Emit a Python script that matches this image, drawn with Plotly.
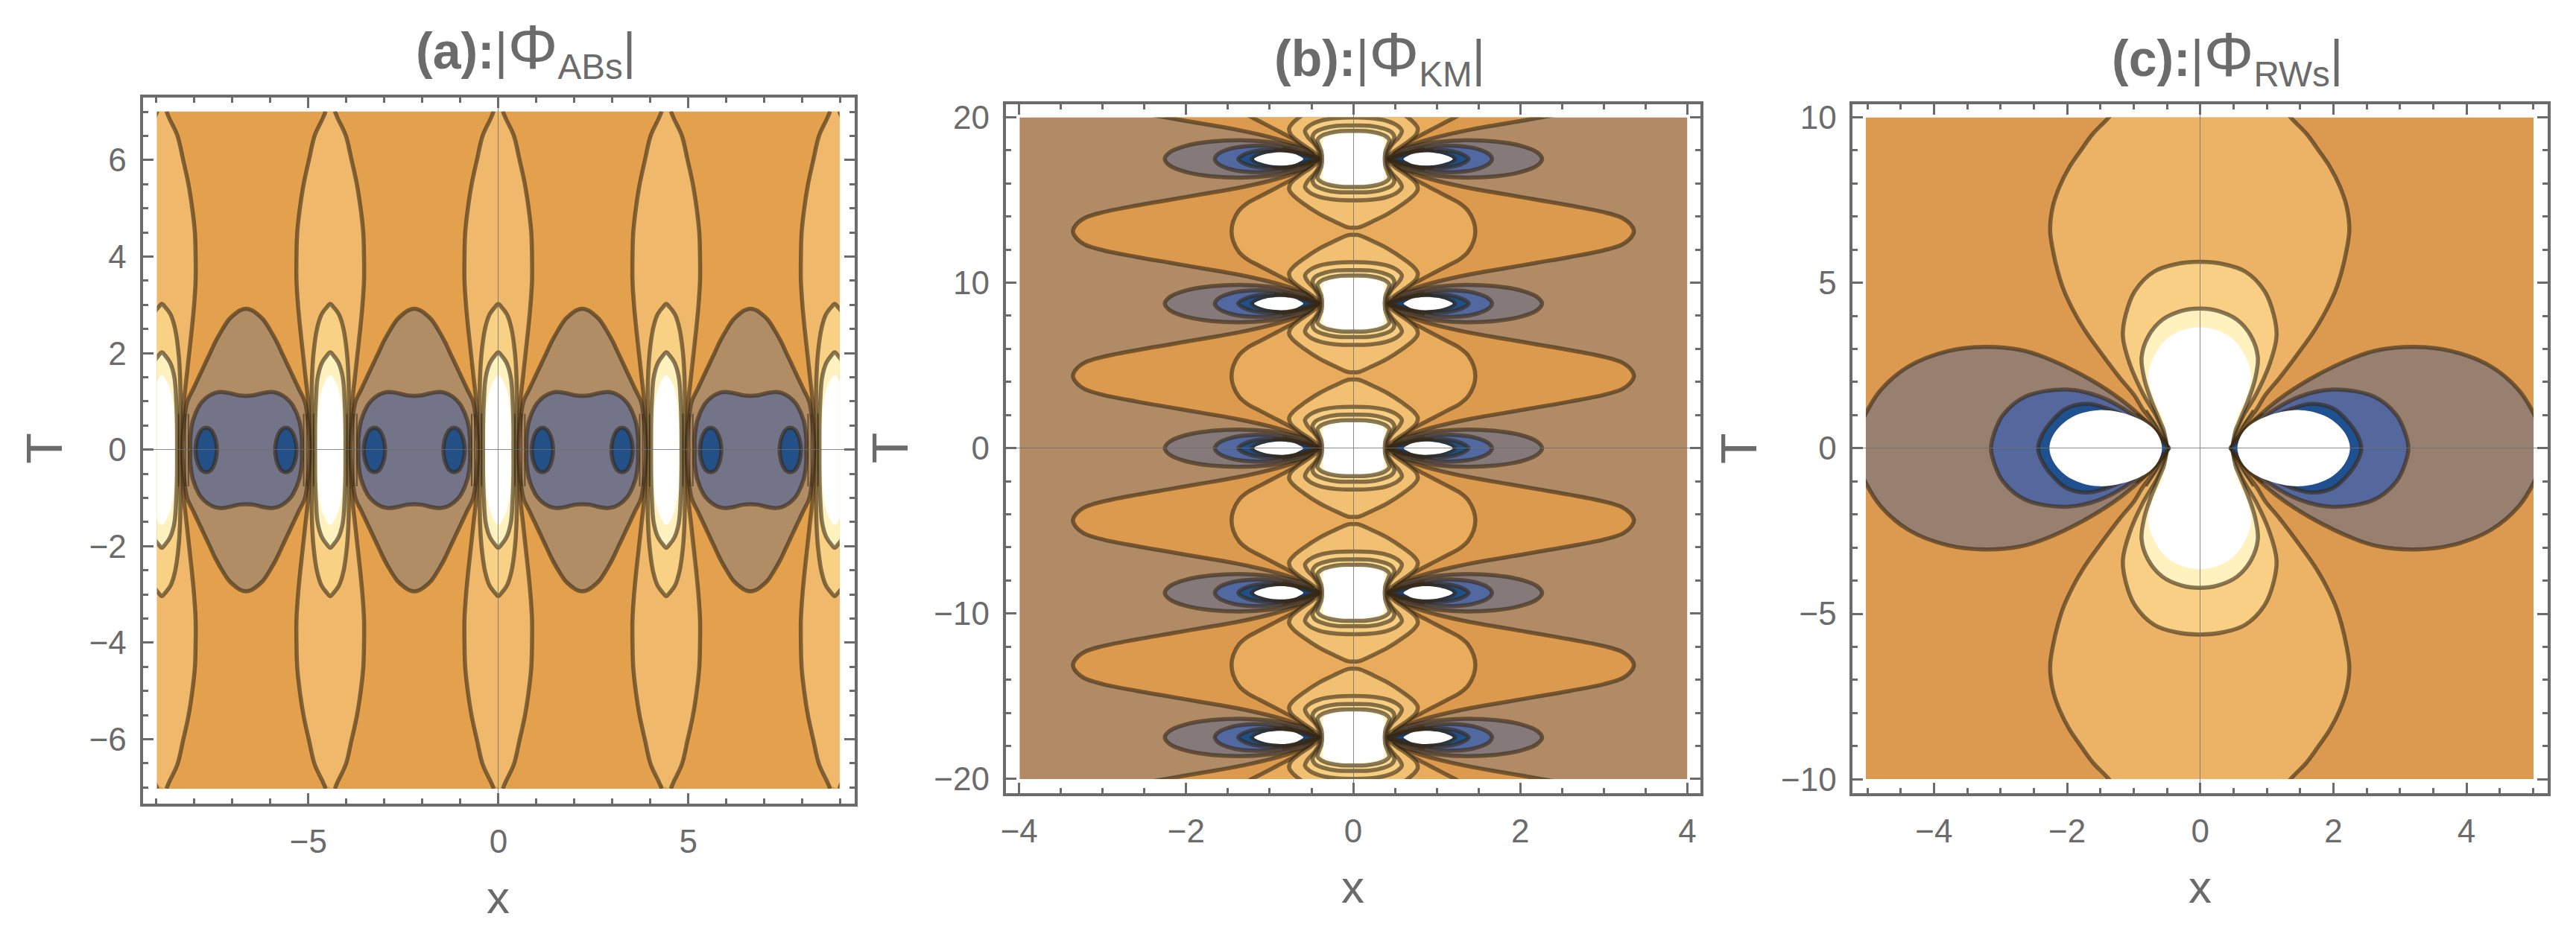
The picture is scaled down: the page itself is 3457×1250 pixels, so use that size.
import numpy as np
import plotly.graph_objects as go

W, H = 3457, 1250
GREY = '#6B6B6B'
EDGE = 'rgba(55,40,20,0.6)'
FONT = 'Liberation Sans'

# panel (a): half curves, x offset from the column / lobe centre, T >= 0
a_columns = [-8.87, -4.43, 0, 4.43, 8.87]
a_lobes = [-6.65, -2.215, 2.215, 6.65]
a_oval_offset = 1.05
a_outer_x = [.12, .2, .41, .56, .7, .8, .87, .89, .89, .85, .79, .72, .65, .58, .55, .54]
a_outer_t = [7, 6.85, 6.5, 6, 5.5, 5, 4.5, 4, 3.5, 3, 2.5, 2, 1.5, 1, .5, 0]
a_mid_x = [0, .08, .23, .35, .44, .48, .49, .48]
a_mid_t = [3.02, 2.96, 2.8, 2.5, 2, 1.5, 1, 0]
a_pale_x = [0, .08, .22, .33, .38, .40, .40]
a_pale_t = [2.02, 1.96, 1.8, 1.5, 1, .5, 0]
a_white_x = [0, .07, .2, .29, .33, .34]
a_white_t = [1.55, 1.5, 1.3, 1, .5, 0]
a_brown_x = [0, .15, .25, .45, .62, .8, .95, 1.1, 1.25, 1.4, 1.55, 1.63, 1.68]
a_brown_t = [2.92, 2.89, 2.84, 2.7, 2.5, 2.25, 2, 1.75, 1.5, 1.25, 1, .6, 0]
a_slate_x = [0, .2, .4, .65, .82, .98, 1.12, 1.24, 1.4, 1.47, 1.47]
a_slate_t = [1.12, 1.13, 1.17, 1.2, 1.18, 1.12, 1.03, .91, .61, .25, 0]
a_oval_x = [0, .12, .22, .27, .28]
a_oval_t = [.46, .42, .28, .12, 0]
a_bundle_off = [.44, .62, .7]
a_bundle_t = [.75, .4, 0]

# panel (b): rows of blobs and the lenses between them
b_rows = [-17.48, -8.74, 0, 8.74, 17.48]
b_lens_mid = [-21.85, -13.11, -4.37, 4.37, 13.11, 21.85]
b_dark_x = [3.36, 3.33, 3.22, 3.0, 2.6, 2.2, 1.8, 1.4, 1.0, .7, .47]
b_dark_t = [0, .35, .8, 1.15, 1.55, 1.9, 2.25, 2.6, 3.05, 3.5, 4.0]
b_wide_x = [1.46, 1.44, 1.37, 1.27, 1.13, .97, .8, .62, .46]
b_wide_t = [0, .6, 1.26, 1.7, 2.08, 2.5, 2.95, 3.45, 3.95]
b_point_x = [0, .06, .23, .41, .59, .72, .77, .75, .65, .5, .43, .42]
b_point_t = [4.15, 4.14, 3.77, 3.32, 2.73, 2.21, 1.84, 1.47, 1.02, .5, .2, 0]
b_ring1_x = [0, .2, .4, .53, .58, .55, .46, .41, .40]
b_ring1_t = [2.5, 2.47, 2.3, 2.0, 1.7, 1.35, .85, .4, 0]
b_ring2_x = [0, .2, .35, .46, .49, .45, .40, .385]
b_ring2_t = [2.02, 2.0, 1.85, 1.6, 1.3, .9, .5, 0]
b_ring3_x = [0, .15, .28, .38, .43, .41, .38, .37]
b_ring3_t = [1.69, 1.68, 1.58, 1.4, 1.15, .8, .4, 0]
b_blob_x = [0, .12, .22, .3, .36, .37, .36, .35]
b_blob_t = [1.55, 1.54, 1.48, 1.38, 1.2, 1.0, .6, 0]
b_mauve_x = [2.26, 2.2, 2.0, 1.7, 1.35, 1.0, .8, .62, .5, .42]
b_mauve_t = [0, .4, .8, 1.05, 1.13, 1.02, .85, .65, .3, 0]
b_blue_x = [1.66, 1.62, 1.45, 1.2, .95, .7, .5, .42]
b_blue_t = [0, .3, .65, .8, .75, .55, .2, 0]
b_navy_x = [1.38, 1.33, 1.2, 1.03, .85, .65, .48, .42]
b_navy_t = [0, .22, .45, .55, .52, .35, .1, 0]
b_inner_x = [1.22, 1.15, 1.0, .85, .65, .48, .42]
b_inner_t = [0, .22, .42, .47, .33, .08, 0]
b_hole_x = [1.19, 1.12, 1.0, .85, .72, .64, .6]
b_hole_t = [0, .2, .35, .4, .33, .15, 0]
b_fan1_x = [.42, .55, .72, .95]
b_fan1_t = [0, .18, .38, .56]
b_fan2_x = [.42, .55, .7, .85]
b_fan2_t = [0, .3, .52, .68]

# panel (c): one central blob and two side lobes
c_outer_x = [.98, 1.36, 1.6, 1.78, 1.95, 2.1, 2.2, 2.24, 2.2, 2.12, 2.03, 1.85, 1.69, 1.45, 1.19, .98, .86, .68, .57, .48]
c_outer_t = [11, 10, 9.5, 9, 8.5, 7.9, 7.3, 6.6, 6, 5.3, 4.75, 4, 3.47, 2.8, 2.11, 1.6, 1.2, .7, .29, 0]
c_mid_x = [0, .36, .68, .97, 1.11, 1.15, 1.05, .85, .64, .5, .47]
c_mid_t = [5.63, 5.56, 5.34, 4.75, 4.02, 3.38, 2.56, 1.65, .93, .29, 0]
c_pale_x = [0, .27, .56, .77, .87, .83, .73, .6, .49, .465]
c_pale_t = [4.22, 4.15, 3.88, 3.38, 2.75, 2.1, 1.47, .84, .29, 0]
c_white_x = [0, .27, .52, .68, .77, .7, .56, .48, .46]
c_white_t = [3.65, 3.56, 3.25, 2.79, 2.2, 1.56, .93, .29, 0]
c_taupe_x = [5.17, 5.15, 5.03, 4.78, 4.36, 3.78, 3.23, 2.69, 2.33, 1.67, 1.18, .77, .56, .45]
c_taupe_t = [0, .3, .93, 1.75, 2.47, 2.93, 3.06, 2.97, 2.75, 2.11, 1.47, .75, .29, 0]
c_blue_x = [3.125, 3.07, 2.94, 2.61, 2.0, 1.5, 1.01, .68, .52, .46]
c_blue_t = [0, .5, 1.02, 1.56, 1.77, 1.56, 1.02, .47, .11, 0]
c_navy_x = [2.42, 2.36, 2.2, 2.0, 1.67, 1.26, .85, .56, .47]
c_navy_t = [0, .4, .85, 1.2, 1.34, 1.1, .65, .2, 0]
c_hole_x = [2.25, 2.17, 1.92, 1.51, 1.01, .68, .565]
c_hole_t = [0, .47, .93, 1.15, .97, .56, 0]
c_fan1_x = [.46, .55, .75, .95]
c_fan1_t = [0, .3, .75, 1.05]
c_fan2_x = [.46, .53, .65, .8]
c_fan2_t = [0, .3, .7, 1.15]


def flip_t(x, t):
    x, t = np.array(x, float), np.array(t, float)
    return np.r_[x, x[-2::-1]], np.r_[t, -t[-2::-1]]


def flip_x(x, t):
    return np.r_[x, -x[-2::-1]], np.r_[t, t[-2::-1]]


def join(parts):
    xs, ys = [], []
    for x, y in parts:
        xs += list(x) + [None]
        ys += list(y) + [None]
    return xs, ys


def add_edges(fig, axis, parts, width=5.5):
    xs, ys = join(parts)
    fig.add_trace(go.Scatter(x=xs, y=ys, xaxis='x' + axis, yaxis='y' + axis, mode='lines',
                             hoverinfo='skip',
                             line=dict(width=width, color=EDGE, shape='spline', smoothing=1)))


def add_level(fig, axis, fill, outline, color, edge=True):
    xs, ys = join(fill)
    fig.add_trace(go.Scatter(x=xs, y=ys, xaxis='x' + axis, yaxis='y' + axis, mode='lines',
                             fill='toself', fillcolor=color, hoverinfo='skip',
                             line=dict(width=0, color=color, shape='spline', smoothing=1)))
    if edge:
        add_edges(fig, axis, outline)


def rings(fig, axis, hx, ht, centres, color, edge=True):
    # closed shape from a quarter curve, repeated along x or T
    x, t = flip_x(*flip_t(hx, ht))
    if axis == '2':
        parts = [(x, t + c) for c in centres]
    else:
        parts = [(x + c, t) for c in centres]
    add_level(fig, axis, parts, parts, color, edge)


def columns(fig, axis, hx, ht, centres, color):
    # open at the top and bottom of the plot: the outline is two separate curves
    x, t = flip_t(hx, ht)
    fx, ft = flip_x(x, t)
    add_level(fig, axis, [(fx + c, ft) for c in centres],
              [(x + c, t) for c in centres] + [(c - x, t) for c in centres], color)


def lobes(fig, axis, hx, ht, rows, color, edge=True):
    # lobe on both sides of each row
    x, t = flip_t(hx, ht)
    parts = []
    for r in rows:
        parts += [(x, t + r), (-x, t + r)]
    add_level(fig, axis, parts, parts, color, edge)


def lenses(fig, hx, ht, mids, color):
    x, t = flip_t(hx[::-1], ht[::-1])
    fx, ft = flip_x(x, t)
    add_level(fig, '2', [(fx, ft + m) for m in mids],
              [(x, t + m) for m in mids] + [(-x, t + m) for m in mids], color)


def fans(fig, axis, curves, rows):
    parts = []
    for hx, ht in curves:
        x, t = np.array(hx), np.array(ht)
        for r in rows:
            parts += [(x, r + t), (x, r - t), (-x, r + t), (-x, r - t)]
    add_edges(fig, axis, parts, width=3)


fig = go.Figure()

# (a)
fig.add_trace(go.Scatter(x=[-9, 9, 9, -9, -9], y=[-7, -7, 7, 7, -7], mode='lines', fill='toself',
                         fillcolor='#E3A14D', line=dict(width=0), hoverinfo='skip'))
columns(fig, '', a_outer_x, a_outer_t, a_columns, '#EFB86B')
rings(fig, '', a_mid_x, a_mid_t, a_columns, '#F8D184')
rings(fig, '', a_pale_x, a_pale_t, a_columns, '#FFF2BE')
rings(fig, '', a_white_x, a_white_t, a_columns, '#FFFFFF', edge=False)
rings(fig, '', a_brown_x, a_brown_t, a_lobes, '#B18D66')
rings(fig, '', a_slate_x, a_slate_t, a_lobes, '#747488')
ox, ot = flip_x(*flip_t(a_oval_x, a_oval_t))
ovals = []
for c in a_lobes:
    ovals += [(ox + c - a_oval_offset, ot), (ox + c + a_oval_offset, ot)]
add_level(fig, '', ovals, ovals, '#235087')
bundle = []
bt = np.r_[a_bundle_t, -np.array(a_bundle_t)[-2::-1]]
for c in a_columns:
    for off in a_bundle_off:
        bundle += [(np.full(bt.size, c + off), bt), (np.full(bt.size, c - off), bt)]
add_edges(fig, '', bundle, width=2)

# (b)
fig.add_trace(go.Scatter(x=[-4, 4, 4, -4, -4], y=[-20, -20, 20, 20, -20], xaxis='x2', yaxis='y2',
                         mode='lines', fill='toself', fillcolor='#B08B65', line=dict(width=0),
                         hoverinfo='skip'))
lenses(fig, b_dark_x, b_dark_t, b_lens_mid, '#DC9A4E')
lenses(fig, b_wide_x, b_wide_t, b_lens_mid, '#E9AC5C')
rings(fig, '2', b_point_x, b_point_t, b_rows, '#F2C072')
rings(fig, '2', b_ring1_x, b_ring1_t, b_rows, '#F8CF82')
rings(fig, '2', b_ring2_x, b_ring2_t, b_rows, '#FBDC92')
rings(fig, '2', b_ring3_x, b_ring3_t, b_rows, '#FFF2C0')
rings(fig, '2', b_blob_x, b_blob_t, b_rows, '#FFFFFF', edge=False)
lobes(fig, '2', b_mauve_x, b_mauve_t, b_rows, '#86797A')
lobes(fig, '2', b_blue_x, b_blue_t, b_rows, '#5168A0')
lobes(fig, '2', b_navy_x, b_navy_t, b_rows, '#1F5089')
lobes(fig, '2', b_inner_x, b_inner_t, b_rows, '#1A4275')
lobes(fig, '2', b_hole_x, b_hole_t, b_rows, '#FFFFFF', edge=False)
fans(fig, '2', [(b_fan1_x, b_fan1_t), (b_fan2_x, b_fan2_t)], b_rows)

# (c)
fig.add_trace(go.Scatter(x=[-5, 5, 5, -5, -5], y=[-10, -10, 10, 10, -10], xaxis='x3', yaxis='y3',
                         mode='lines', fill='toself', fillcolor='#DC9A50', line=dict(width=0),
                         hoverinfo='skip'))
columns(fig, '3', c_outer_x, c_outer_t, [0], '#ECB366')
lobes(fig, '3', c_taupe_x, c_taupe_t, [0], '#988070')
rings(fig, '3', c_mid_x, c_mid_t, [0], '#F8CF85')
rings(fig, '3', c_pale_x, c_pale_t, [0], '#FFF2BE')
rings(fig, '3', c_white_x, c_white_t, [0], '#FFFFFF', edge=False)
lobes(fig, '3', c_blue_x, c_blue_t, [0], '#54689E')
lobes(fig, '3', c_navy_x, c_navy_t, [0], '#1F5090')
lobes(fig, '3', c_hole_x, c_hole_t, [0], '#FFFFFF', edge=False)
fans(fig, '3', [(c_fan1_x, c_fan1_t), (c_fan2_x, c_fan2_t)], [0])

# empty traces so the frame subplots exist
for n in ['4', '5', '6']:
    fig.add_trace(go.Scatter(x=[None], y=[None], xaxis='x' + n, yaxis='y' + n, showlegend=False))


def dom_x(a, b):
    return [a / W, b / W]


def dom_y(a, b):
    return [1 - b / H, 1 - a / H]


def plot_axis(dom, rng):
    return dict(domain=dom, range=rng, visible=False, fixedrange=True)


def frame_axis(dom, rng, dtick, minor, other):
    return dict(domain=dom, range=rng, anchor=other, showgrid=False, showline=True, mirror='allticks',
                linewidth=4, linecolor=GREY, ticks='inside', ticklen=14, tickwidth=3, tickcolor=GREY,
                dtick=dtick, tick0=0, ticklabelstandoff=9, tickfont=dict(family=FONT, size=44, color=GREY),
                minor=dict(ticks='inside', ticklen=7, tickwidth=3, tickcolor=GREY, dtick=minor, tick0=0),
                zeroline=True, zerolinecolor='rgba(110,110,110,0.8)', zerolinewidth=1.2, layer='above traces')


fig.update_layout(
    width=W, height=H, margin=dict(l=0, r=0, t=0, b=0), showlegend=False,
    paper_bgcolor='white', plot_bgcolor='rgba(0,0,0,0)',
    xaxis=plot_axis(dom_x(204, 1122), [-9, 9]),
    yaxis=plot_axis(dom_y(144, 1063), [-7, 7]),
    xaxis2=plot_axis(dom_x(1364, 2262), [-4, 4]),
    yaxis2=plot_axis(dom_y(152, 1050), [-20, 20]),
    xaxis3=plot_axis(dom_x(2502, 3400), [-5, 5]),
    yaxis3=plot_axis(dom_y(152, 1050), [-10, 10]),
    xaxis4=frame_axis(dom_x(185, 1142), [-9.36, 9.37], 5, 1, 'y4'),
    yaxis4=frame_axis(dom_y(125, 1083), [-7.33, 7.3], 2, 0.5, 'x4'),
    xaxis5=frame_axis(dom_x(1345.5, 2280), [-4.16, 4.16], 2, 0.5, 'y5'),
    yaxis5=frame_axis(dom_y(134, 1069), [-20.85, 20.8], 10, 2, 'x5'),
    xaxis6=frame_axis(dom_x(2484.5, 3419), [-5.22, 5.22], 2, 0.5, 'y6'),
    yaxis6=frame_axis(dom_y(134, 1069), [-10.42, 10.4], 5, 1, 'x6'),
)


def label(px, py, text, size, angle=0):
    fig.add_annotation(x=px / W, y=1 - py / H, xref='paper', yref='paper', text=text, showarrow=False,
                       xanchor='center', yanchor='middle', textangle=angle,
                       font=dict(family=FONT, size=size, color=GREY))


def title(tag, sub):
    return f'<b>({tag})</b><b>:</b>|<span style="font-size:84px">Φ</span><sub>{sub}</sub>|'


label(700, 60, title('a', 'ABs'), 68)
label(1848, 70, title('b', 'KM'), 68)
label(2988, 70, title('c', 'RWs'), 68)
for px, py in [(663, 1210), (1812, 1196), (2951, 1196)]:
    label(px, py, 'x', 62)
for px in [52, 1189, 2330]:
    label(px, 601, 'T', 68, angle=-90)

fig.write_html('out.html', post_script="document.body.style.margin='0';",
               config={'displayModeBar': False})
